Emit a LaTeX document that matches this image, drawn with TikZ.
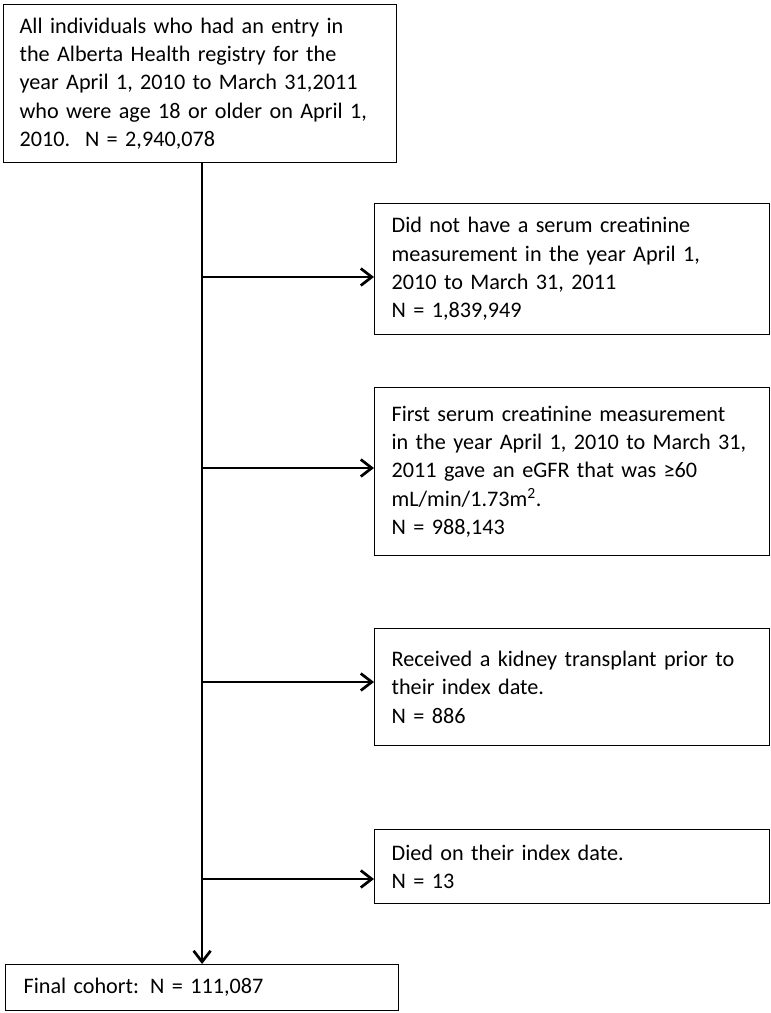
\documentclass[tikz,border=0pt]{standalone}
\usepackage{fontspec}
\setmainfont{Carlito}
\usetikzlibrary{arrows.meta}
\tikzset{
  box/.style={draw=black, line width=1.2pt, anchor=north west, align=left,
    inner xsep=16pt, inner ysep=0pt, font=\fontsize{22.2}{28.4}\selectfont},
  flow/.style={line width=2.7pt, -{Straight Barb[length=11pt,width=17pt]}},
}
\begin{document}
\begin{tikzpicture}[x=1pt,y=-1pt]
\useasboundingbox (0,0) rectangle (771,1013);
\node[box, minimum width=393, minimum height=158, text width=361] (top) at (3,4)
  {All individuals who had an entry in\\the Alberta Health registry for the\\year April 1, 2010 to March 31,2011\\who were age 18 or older on April 1,\\2010.\ \ N = 2,940,078};
\node[box, minimum width=395, minimum height=131, text width=361, inner xsep=17pt] (b2) at (374,203)
  {Did not have a serum creatinine\\measurement in the year April 1,\\2010 to March 31, 2011\\N = 1,839,949};
\node[box, minimum width=395, minimum height=168, text width=361, inner xsep=17pt] (b3) at (374,387)
  {First serum creatinine measurement\\in the year April 1, 2010 to March 31,\\2011 gave an eGFR that was ≥60\\mL/min/1.73m\textsuperscript{2}.\\N = 988,143};
\node[box, minimum width=395, minimum height=117, text width=361, inner xsep=17pt] (b4) at (374,628)
  {Received a kidney transplant prior to\\their index date.\\N = 886};
\node[box, minimum width=395, minimum height=74, text width=361, inner xsep=17pt] (b5) at (374,829)
  {Died on their index date.\\N = 13};
\node[box, minimum width=393, minimum height=46, text width=357, inner xsep=18pt] (final) at (5,964)
  {Final cohort: N = 111,087};
\coordinate (a2) at (201.5,277);
\coordinate (a3) at (201.5,468);
\coordinate (a4) at (201.5,682);
\coordinate (a5) at (201.5,879);
\draw[flow] (top.south -| final.north) -- (final.north);
\draw[flow] (a2) -- (a2 -| b2.west);
\draw[flow] (a3) -- (a3 -| b3.west);
\draw[flow] (a4) -- (a4 -| b4.west);
\draw[flow] (a5) -- (a5 -| b5.west);
\end{tikzpicture}
\end{document}
